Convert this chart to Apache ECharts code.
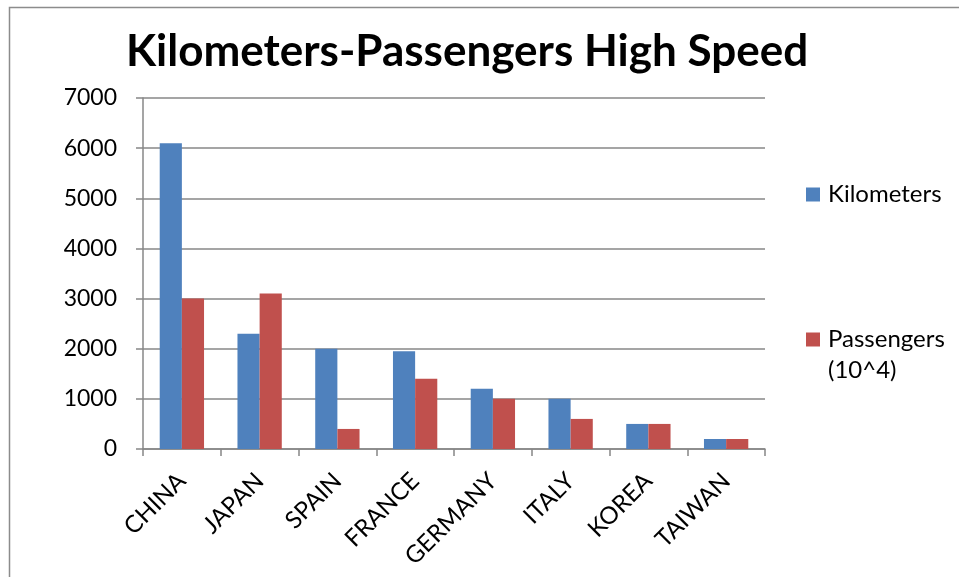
<!DOCTYPE html>
<html>
<head>
<meta charset="utf-8">
<title>Kilometers-Passengers High Speed</title>
<script src="https://cdn.jsdelivr.net/npm/echarts@6/dist/echarts.min.js"></script>
<style>
  html, body { margin: 0; padding: 0; background: #ffffff; }
  #chart { width: 959px; height: 577px; }
</style>
</head>
<body>
<div id="chart"></div>
<script>
// High-speed rail: network length (km) and passengers (x10^4) by country
const countries = ['CHINA', 'JAPAN', 'SPAIN', 'FRANCE', 'GERMANY', 'ITALY', 'KOREA', 'TAIWAN'];
const kilometers = [6100, 2300, 2000, 1950, 1200, 1000, 500, 200];
const passengers = [3000, 3100, 400, 1400, 1000, 600, 500, 200];
const yTicks = [0, 1000, 2000, 3000, 4000, 5000, 6000, 7000];

const FONT = 'Lato, "Open Sans", sans-serif';
const GRID_COLOR = '#878787';

const chart = echarts.init(document.getElementById('chart'), null, { renderer: 'canvas' });

chart.setOption({
  backgroundColor: '#ffffff',
  animation: false,
  title: {
    text: 'Kilometers-Passengers High Speed',
    left: 462,
    top: 25,
    textAlign: 'center',
    textStyle: { fontFamily: FONT, fontWeight: 'bold', fontSize: 44, color: '#000000' }
  },
  graphic: [{
    type: 'rect',
    shape: { x: 9.5, y: 7.5, width: 970, height: 600 },
    style: { fill: 'none', stroke: '#8c8c8c', lineWidth: 1.5 },
    silent: true
  }],
  legend: [{
    data: ['Kilometers'],
    orient: 'vertical',
    left: 806,
    top: 179,
    padding: 0,
    itemWidth: 14,
    itemHeight: 14,
    icon: 'rect',
    selectedMode: false,
    textStyle: { fontFamily: FONT, fontSize: 24, color: '#000000', lineHeight: 31, padding: [0, 0, 0, 3] }
  }, {
    data: ['Passengers (10^4)'],
    orient: 'vertical',
    left: 806,
    top: 293,
    padding: 0,
    itemWidth: 14,
    itemHeight: 14,
    icon: 'rect',
    selectedMode: false,
    // leading blank line keeps the first text line level with the swatch
    formatter: function () { return '\nPassengers\n(10^4)'; },
    textStyle: { fontFamily: FONT, fontSize: 24, color: '#000000', lineHeight: 31, padding: [0, 0, 0, 3] }
  }],
  grid: { left: 143, right: 194, top: 98, bottom: 128, containLabel: false },
  xAxis: {
    type: 'category',
    data: countries,
    axisLine: { show: true, lineStyle: { color: GRID_COLOR, width: 1.5 } },
    axisTick: { show: true, length: 7, alignWithLabel: false, lineStyle: { color: GRID_COLOR, width: 1.5 } },
    axisLabel: { rotate: 45, margin: 28, fontFamily: FONT, fontSize: 24, color: '#000000', interval: 0 },
    splitLine: { show: false }
  },
  yAxis: {
    type: 'value',
    min: 0,
    max: 7000,
    interval: 1000,
    axisLine: { show: true, lineStyle: { color: GRID_COLOR, width: 1.5 } },
    axisTick: { show: true, length: 7, inside: false, lineStyle: { color: GRID_COLOR, width: 1.5 } },
    axisLabel: {
      margin: 26,
      fontFamily: FONT,
      fontSize: 23,
      color: '#000000',
      formatter: function (v) { return yTicks.indexOf(v) >= 0 ? String(v) : ''; }
    },
    splitLine: { show: true, lineStyle: { color: GRID_COLOR, width: 1.5 } }
  },
  series: [{
    name: 'Kilometers',
    type: 'bar',
    data: kilometers,
    barGap: '0%',
    barCategoryGap: '43%',
    itemStyle: { color: '#4F81BD' }
  }, {
    name: 'Passengers (10^4)',
    type: 'bar',
    data: passengers,
    barGap: '0%',
    barCategoryGap: '43%',
    itemStyle: { color: '#C0504D' }
  }]
});
</script>
</body>
</html>
